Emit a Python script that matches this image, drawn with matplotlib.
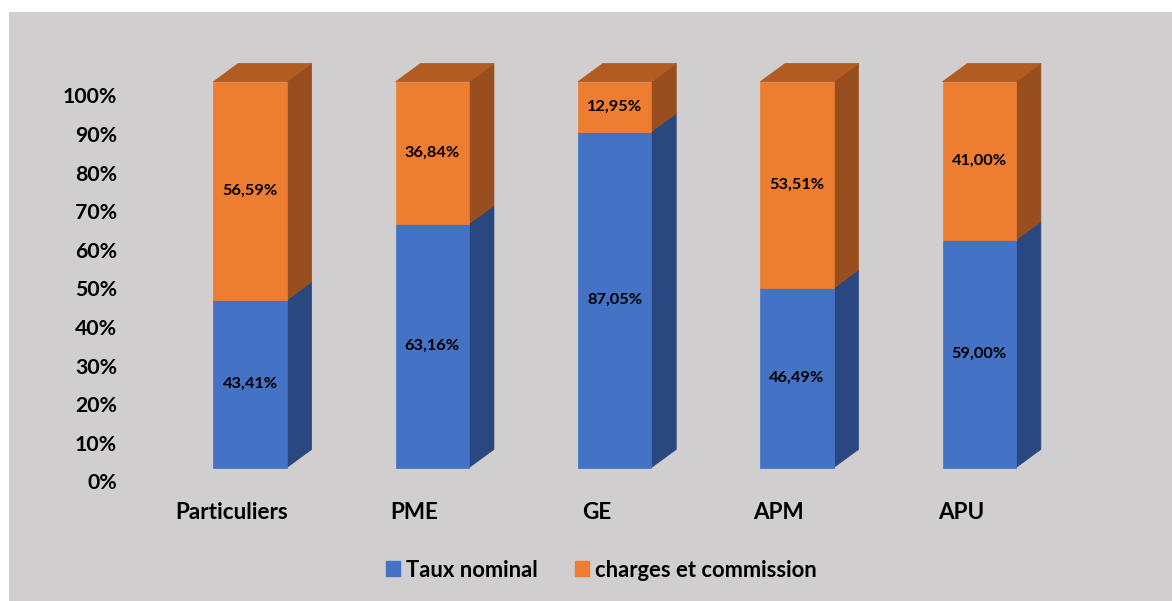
import matplotlib
matplotlib.use("Agg")
import matplotlib.pyplot as plt
from matplotlib.patches import Polygon, Patch
from matplotlib.transforms import offset_copy

categories = ["Particuliers", "PME", "GE", "APM", "APU"]
taux_nominal = [43.41, 63.16, 87.05, 46.49, 59.00]
charges = [56.59, 36.84, 12.95, 53.51, 41.00]
series_names = ["Taux nominal", "charges et commission"]
yticks = list(range(0, 101, 10))

FONT = "Lato"
BG = "#d0cece"
BLUE = ("#4472c4", "#2a4880", "#34589a")   # front, side, top
ORANGE = ("#ed7d31", "#984e1e", "#b35c22")

W, H, DPI = 1172, 601, 100
fig = plt.figure(figsize=(W / DPI, H / DPI), dpi=DPI, facecolor="white")
# axes covers the grey chart area
ax = fig.add_axes([9 / W, 0, (W - 9) / W, (H - 12) / H])
ax.set_facecolor(BG)
for s in ax.spines.values():
    s.set_visible(False)
ax.set_xticks([])
ax.set_yticks([])

px_per_cat = 182.3
px_per_pct = 3.86
x0_px, y0_px = 250, 467.7
ax.set_xlim((9 - x0_px) / px_per_cat, (W - x0_px) / px_per_cat)
ax.set_ylim((y0_px - H) / px_per_pct, (y0_px - 12) / px_per_pct)

bw = 73.3 / px_per_cat
ddx = 25 / px_per_cat
ddy = 18.3 / px_per_pct


def draw_segment(x, bottom, h, cols, top):
    ax.bar(x, h, bottom=bottom, width=bw, color=cols[0], edgecolor=cols[0], linewidth=0.5, zorder=3)
    xr = x + bw / 2
    xl = x - bw / 2
    side = [(xr, bottom), (xr + ddx, bottom + ddy), (xr + ddx, bottom + h + ddy), (xr, bottom + h)]
    ax.add_patch(Polygon(side, closed=True, facecolor=cols[1], edgecolor=cols[1], linewidth=0.5, zorder=2))
    if top:
        t = bottom + h
        tp = [(xl, t), (xr, t), (xr + ddx, t + ddy), (xl + ddx, t + ddy)]
        ax.add_patch(Polygon(tp, closed=True, facecolor=cols[2], edgecolor=cols[2], linewidth=0.5, zorder=2))


def fmt(v):
    return f"{v:.2f}".replace(".", ",") + "%"


for i, (a, b) in enumerate(zip(taux_nominal, charges)):
    draw_segment(i, 0, a, BLUE, False)
    draw_segment(i, a, b, ORANGE, True)
    ax.text(i, a / 2, fmt(a), ha="center", va="center", fontsize=11.8,
            fontweight="bold", family=FONT, color="black", zorder=5)
    ax.text(i, a + b / 2, fmt(b), ha="center", va="center", fontsize=11.8,
            fontweight="bold", family=FONT, color="black", zorder=5)

# y tick labels (placed on the back wall as in the original)
ytr = offset_copy(ax.transData, fig=fig, x=0, y=-15.7, units="dots")
xlab = (117 - x0_px) / px_per_cat
for v in yticks:
    ax.text(xlab, v, f"{v}%", ha="right", va="center", fontsize=15.3,
            fontweight="bold", family=FONT, transform=ytr)

# category labels
ctr = offset_copy(ax.transData, fig=fig, x=-18, y=-44.8, units="dots")
for i, c in enumerate(categories):
    ax.text(i, 0, c, ha="center", va="center", fontsize=16.2,
            fontweight="bold", family=FONT, transform=ctr)

handles = [Patch(facecolor=BLUE[0], edgecolor=BLUE[0]),
           Patch(facecolor=ORANGE[0], edgecolor=ORANGE[0])]
leg = ax.legend(handles, series_names, loc="center", bbox_to_anchor=(0.5095, 0.0526),
                ncol=2, frameon=False, handlelength=0.65, handleheight=0.65,
                handletextpad=0.28, columnspacing=1.67,
                prop={"family": FONT, "weight": "bold", "size": 15.8})

fig.savefig("out.png", dpi=DPI, facecolor="white")
